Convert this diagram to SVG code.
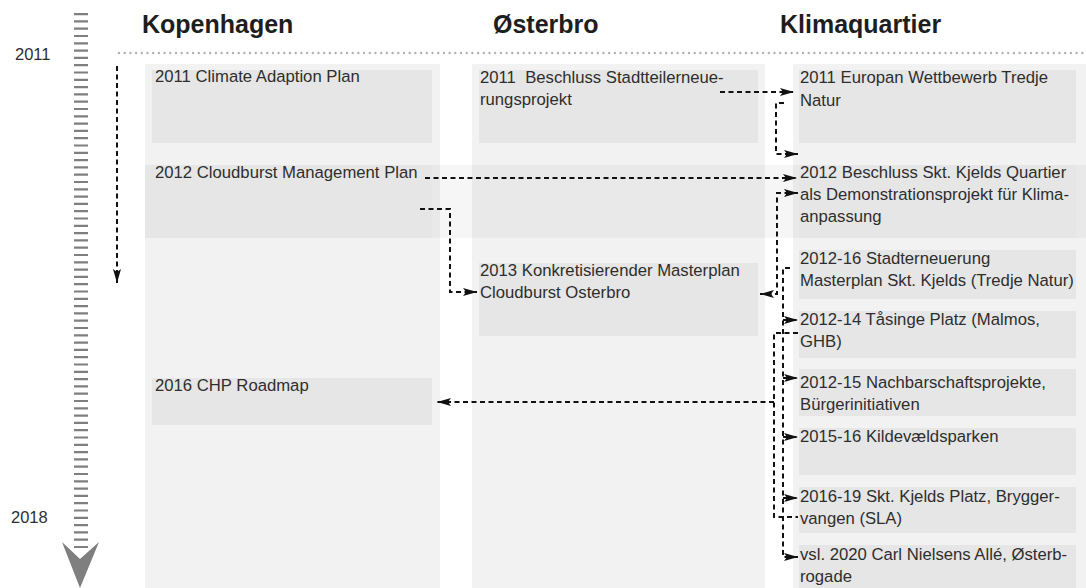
<svg xmlns="http://www.w3.org/2000/svg" width="1086" height="588" viewBox="0 0 1086 588">
  <defs>
    <style>
      .col { fill: #f2f2f2; }
      .box { fill: #e6e6e6; }
      .hd { font-family: "Liberation Sans", Arial, sans-serif; font-size: 25px; font-weight: bold; fill: #1e1e1e; }
      .tx { font-family: "Liberation Sans", Arial, sans-serif; font-size: 16.7px; fill: #2e2e2e; white-space: pre; }
      .yr { font-family: "Liberation Sans", Arial, sans-serif; font-size: 16.5px; fill: #2e2e2e; }
      .cn { fill: none; stroke: #111; stroke-width: 2; stroke-dasharray: 5 3.5; }
    </style>
    <marker id="arr" viewBox="0 0 14 8" refX="14" refY="4" markerWidth="14" markerHeight="8" markerUnits="userSpaceOnUse" orient="auto-start-reverse">
      <path d="M0,0 L14,4 L0,8 L3,4 z" fill="#111"/>
    </marker>
  </defs>

  <!-- column backgrounds -->
  <g id="columns">
    <rect class="col" x="145" y="64" width="295" height="524"/>
    <rect class="col" x="472" y="64" width="293" height="524"/>
    <rect class="col" x="793" y="64" width="293" height="524"/>
    <!-- 2012 row band across all columns -->
    <rect x="145" y="165" width="941" height="73" fill="#000" fill-opacity="0.035"/>
  </g>

  <!-- time axis -->
  <g id="timeline">
    <line x1="81" y1="13" x2="81" y2="551" stroke="#7f7f7f" stroke-width="14" stroke-dasharray="2.2 5.1"/>
    <polygon points="62,542 80,559 99,542 80,588" fill="#7f7f7f"/>
    <text class="yr" x="15" y="60">2011</text>
    <text class="yr" x="11" y="523">2018</text>
    <line x1="119" y1="53" x2="1086" y2="53" stroke="#b0b0b0" stroke-width="2.4" stroke-linecap="round" stroke-dasharray="0 5.7"/>
  </g>

  <!-- column headings -->
  <g id="headings">
    <text class="hd" x="142" y="33">Kopenhagen</text>
    <text class="hd" x="493" y="33">Østerbro</text>
    <text class="hd" x="780" y="33">Klimaquartier</text>
  </g>

  <!-- Kopenhagen -->
  <g id="k-2011">
    <rect class="box" x="152" y="70" width="280" height="73"/>
    <text class="tx" x="155" y="82">2011 Climate Adaption Plan</text>
  </g>
  <g id="k-2012">
    <rect class="box" x="145" y="165" width="287" height="73"/>
    <text class="tx" x="155" y="178">2012 Cloudburst Management Plan</text>
  </g>
  <g id="k-2016">
    <rect class="box" x="152" y="378" width="280" height="47"/>
    <text class="tx" x="155" y="391">2016 CHP Roadmap</text>
  </g>

  <!-- Østerbro -->
  <g id="o-2011">
    <rect class="box" x="479" y="70" width="279" height="73"/>
    <text class="tx" x="480" y="83">2011  Beschluss Stadtteilerneue-</text>
    <text class="tx" x="480" y="105">rungsprojekt</text>
  </g>
  <g id="o-2013">
    <rect class="box" x="479" y="263" width="279" height="73"/>
    <text class="tx" x="480" y="276">2013 Konkretisierender Masterplan</text>
    <text class="tx" x="480" y="298">Cloudburst Osterbro</text>
  </g>

  <!-- Klimaquartier -->
  <g id="q-2011">
    <rect class="box" x="799" y="70" width="277" height="73"/>
    <text class="tx" x="800" y="83">2011 Europan Wettbewerb Tredje</text>
    <text class="tx" x="800" y="106">Natur</text>
  </g>
  <g id="q-2012">
    <rect class="box" x="799" y="165" width="277" height="73"/>
    <text class="tx" x="800" y="178">2012 Beschluss Skt. Kjelds Quartier</text>
    <text class="tx" x="800" y="200">als Demonstrationsprojekt für Klima-</text>
    <text class="tx" x="800" y="222">anpassung</text>
  </g>
  <g id="q-2012-16">
    <rect class="box" x="799" y="250" width="277" height="49"/>
    <text class="tx" x="800" y="264">2012-16 Stadterneuerung</text>
    <text class="tx" x="800" y="286">Masterplan Skt. Kjelds (Tredje Natur)</text>
  </g>
  <g id="q-2012-14">
    <rect class="box" x="799" y="311" width="277" height="47"/>
    <text class="tx" x="800" y="325">2012-14 Tåsinge Platz (Malmos,</text>
    <text class="tx" x="800" y="347">GHB)</text>
  </g>
  <g id="q-2012-15">
    <rect class="box" x="799" y="369" width="277" height="47"/>
    <text class="tx" x="800" y="388">2012-15 Nachbarschaftsprojekte,</text>
    <text class="tx" x="800" y="410">Bürgerinitiativen</text>
  </g>
  <g id="q-2015-16">
    <rect class="box" x="799" y="428" width="277" height="47"/>
    <text class="tx" x="800" y="442">2015-16 Kildevældsparken</text>
  </g>
  <g id="q-2016-19">
    <rect class="box" x="799" y="487" width="277" height="46"/>
    <text class="tx" x="800" y="502">2016-19 Skt. Kjelds Platz, Brygger-</text>
    <text class="tx" x="800" y="524">vangen (SLA)</text>
  </g>
  <g id="q-2020">
    <rect class="box" x="799" y="545" width="277" height="43"/>
    <text class="tx" x="800" y="560">vsl. 2020 Carl Nielsens Allé, Østerb-</text>
    <text class="tx" x="800" y="582">rogade</text>
  </g>

  <!-- connectors -->
  <g id="connectors" class="cn">
    <path d="M117,66 V283" marker-end="url(#arr)"/>
    <path d="M720,92 H794" marker-end="url(#arr)"/>
    <path d="M784,103 H776 V154 H798" marker-end="url(#arr)"/>
    <path d="M425,178 H797" marker-end="url(#arr)"/>
    <path d="M420,209 H450 V292 H477" marker-end="url(#arr)"/>
    <path d="M798,193 H777 V294 H760" marker-start="url(#arr)" marker-end="url(#arr)"/>
    <path d="M790,268 H783 V557 H798" marker-end="url(#arr)"/>
    <path d="M783,320 H798" marker-end="url(#arr)"/>
    <path d="M783,378 H798" marker-end="url(#arr)"/>
    <path d="M783,437 H798" marker-end="url(#arr)"/>
    <path d="M783,498 H798" marker-end="url(#arr)"/>
    <path d="M798,333 H774 V517 H798"/>
    <path d="M774,402 H437" marker-end="url(#arr)"/>
  </g>
</svg>
